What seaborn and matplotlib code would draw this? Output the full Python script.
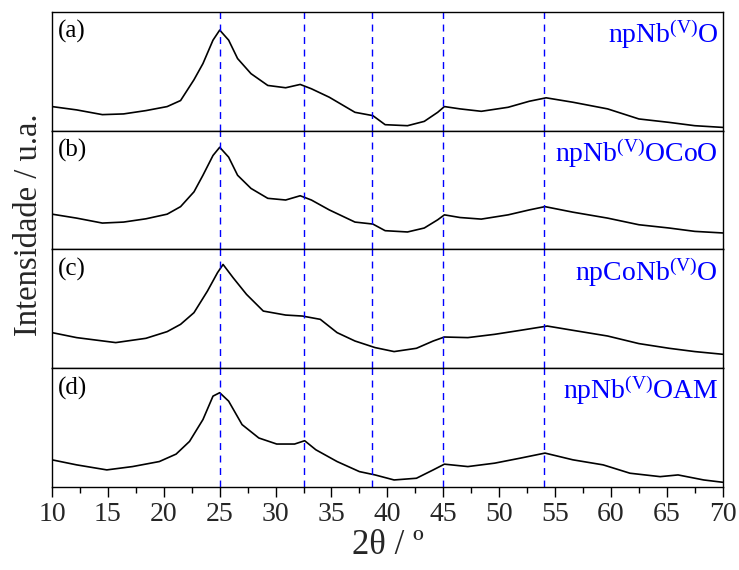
import numpy as np
import pandas as pd
import matplotlib
matplotlib.use("Agg")
import matplotlib.pyplot as plt
import seaborn as sns

# 2theta (deg) and intensity (a.u.), one set per sample
theta_a = [10.0, 12.2, 14.5, 16.4, 18.4, 20.3, 21.5, 22.7, 23.5, 24.4, 25.0, 25.8, 26.6,
           27.8, 29.3, 30.9, 32.2, 33.2, 34.8, 37.1, 38.7, 39.8, 41.8, 43.3, 44.5, 45.1,
           46.5, 48.4, 50.8, 52.7, 54.2, 56.6, 59.7, 62.5, 65.2, 67.5, 70.0]
int_a = [24, 20.7, 16, 16.7, 20, 24, 30, 50.7, 66.7, 90, 100, 90, 71.7,
         56.7, 45, 42.7, 46, 41.7, 33.3, 18.3, 15, 6, 5, 9.3, 18.3, 24,
         21.7, 19.3, 23.3, 29.3, 32.7, 28.3, 21.7, 11.7, 8.3, 5, 3.3]

theta_b = [10.0, 12.2, 14.5, 16.4, 18.4, 20.3, 21.5, 22.7, 23.5, 24.4, 25.0, 25.8, 26.6,
           27.8, 29.3, 30.9, 32.2, 33.2, 34.8, 37.1, 38.7, 39.8, 41.8, 43.3, 44.5, 45.1,
           46.5, 48.4, 50.8, 52.7, 54.1, 56.6, 59.7, 62.5, 65.2, 67.5, 70.0]
int_b = [35.7, 31.7, 26.7, 27.7, 31, 35.7, 43.3, 58.3, 75, 95, 103.3, 93.3, 75,
         61.7, 51.7, 50, 54.3, 50, 40, 27.7, 25.7, 19, 17.7, 21.7, 30, 35,
         32.3, 30.7, 35, 40, 43.3, 37.7, 31.7, 25, 21.7, 18.3, 16.7]

theta_c = [10.0, 12.2, 15.7, 18.4, 20.3, 21.5, 22.7, 23.9, 24.8, 25.3, 26.2, 27.4, 28.9,
           30.9, 32.4, 34.0, 35.5, 37.1, 38.9, 40.6, 42.6, 44.1, 45.1, 47.2, 49.6, 51.9,
           54.3, 56.6, 59.7, 62.5, 65.2, 67.5, 70.0]
int_c = [35.7, 30.7, 25.7, 30, 36.7, 44, 55.7, 77.3, 95.7, 104, 90.7, 74, 57.3,
         53.3, 52.3, 49, 35.7, 27.3, 20.7, 16.7, 20, 27.3, 31.3, 30.7, 34, 38,
         42.3, 38, 32.3, 24.7, 20, 16.7, 14]

theta_d = [10.0, 12.2, 14.9, 17.2, 19.6, 21.1, 22.3, 23.5, 24.4, 25.0, 25.8, 27.0, 28.5,
           30.1, 31.7, 32.6, 33.6, 35.5, 37.5, 38.9, 40.6, 42.6, 44.1, 45.1, 47.2, 49.6,
           51.9, 54.1, 56.6, 59.3, 61.7, 64.4, 66.0, 68.3, 70.0]
int_d = [27, 22, 17, 20.3, 25.3, 32.7, 45.3, 67, 90.3, 93.7, 85.3, 62, 48.7,
         42.7, 42.7, 46, 37, 25.3, 15.3, 12, 7, 8.7, 17, 22.7, 20.3, 23.7,
         28.7, 33.7, 27, 22, 13.7, 10.3, 12, 7, 4.7]

panel_tags = ["(a)", "(b)", "(c)", "(d)"]
sample_names = [r"npNb$^{\rm (V)}$O", r"npNb$^{\rm (V)}$OCoO",
                r"npCoNb$^{\rm (V)}$O", r"npNb$^{\rm (V)}$OAM"]
ref_lines = [25.0, 32.5, 38.6, 45.0, 54.0]
panel_ylims = [(0, 118), (0, 120), (0, 119), (0, 118)]

sns.set_style("ticks")
plt.rcParams["font.family"] = ["Liberation Serif", "DejaVu Serif"]
plt.rcParams["mathtext.fontset"] = "custom"
plt.rcParams["mathtext.rm"] = "Liberation Serif"
plt.rcParams["mathtext.it"] = "Liberation Serif:italic"

series = [(theta_a, int_a), (theta_b, int_b), (theta_c, int_c), (theta_d, int_d)]

fig, axes = plt.subplots(4, 1, figsize=(7.39, 5.70), dpi=100, sharex=True)
fig.subplots_adjust(left=0.0704, right=0.978, top=0.979, bottom=0.1456, hspace=0)

for i, ax in enumerate(axes):
    th, inten = series[i]
    df = pd.DataFrame({"theta": th, "intensity": inten})
    sns.lineplot(data=df, x="theta", y="intensity", ax=ax, color="black",
                 linewidth=1.2, sort=False)
    for xv in ref_lines:
        ax.axvline(xv, color="#0000ff", linestyle=(0, (5, 4)), linewidth=1.0)
    ax.set_xlim(10, 70)
    ax.set_ylim(*panel_ylims[i])
    ax.set_yticks([])
    ax.set_ylabel("")
    ax.set_xlabel("")
    for sp in ax.spines.values():
        sp.set_visible(True)
        sp.set_linewidth(1.0)
        sp.set_color("black")
    ax.text(0.008, 0.93, panel_tags[i], transform=ax.transAxes, ha="left", va="top",
            fontsize=18, color="black")
    ax.text(0.993, 0.95, sample_names[i], transform=ax.transAxes, ha="right", va="top",
            fontsize=20, color="#0000ff")
    ax.tick_params(axis="x", which="both", length=0)

bottom = axes[-1]
bottom.set_xticks(np.arange(10, 71, 5))
bottom.set_xticks(np.arange(12.5, 70, 5), minor=True)
bottom.tick_params(axis="x", which="major", length=7, width=1, direction="out",
                   labelsize=20, color="black", pad=4)
bottom.tick_params(axis="x", which="minor", length=4, width=1, direction="out",
                   color="black")
bottom.set_xlabel("2\u03b8 / º", fontsize=25, labelpad=1)

fig.supylabel("Intensidade / u.a.", fontsize=23.5, x=0.018, y=0.606)

fig.savefig("out.png", dpi=100)
